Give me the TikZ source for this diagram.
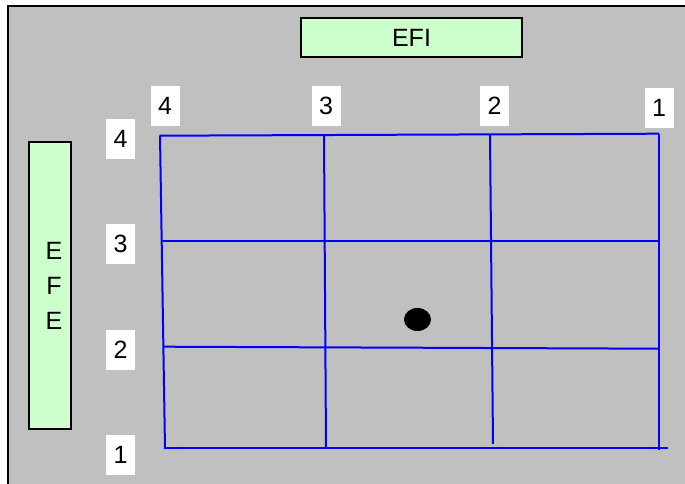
\documentclass[tikz,border=0pt]{standalone}
\usepackage{fontspec}
\setmainfont{Liberation Sans}
\definecolor{panelgray}{HTML}{C0C0C0}
\definecolor{effgreen}{HTML}{CCFFCC}
\tikzset{
  effbox/.style={draw=black,line width=2pt,fill=effgreen},
  numbox/.style={fill=white,inner sep=0pt,minimum width=29pt,minimum height=40pt},
  gridline/.style={draw=blue,line width=2pt}
}

\begin{document}
\begin{tikzpicture}[x=1pt,y=-1pt,font=\fontsize{25}{35}\selectfont]
\useasboundingbox (0,0) rectangle (685,484);
\clip (0,0) rectangle (685,484);
% panel
\draw[line width=2pt,fill=panelgray] (8,6) rectangle (700,500);
% efficiency boxes
\node[effbox,minimum width=221pt,minimum height=39pt] (efi) at (411.5,37.5) {EFI};
\draw[effbox] (29,142) rectangle (71,429);
\node[align=center,inner sep=0pt] (efe) at (54,285.5) {E\\F\\E};
% grid
\draw[gridline] (159.5,135.7) -- (659,133.7);
\draw[gridline] (162,240.7) -- (657.5,240.7);
\draw[gridline] (163.4,346.7) -- (659,348.7);
\draw[gridline] (164.7,447.7) -- (667.5,447.7);
\draw[gridline] (160,135.5) -- (165,449);
\draw[gridline] (324,135) -- (326,447.7);
\draw[gridline] (490,134.5) -- (493,444);
\draw[gridline] (659,133.7) -- (659,450);
% position
\fill (417.5,319.5) ellipse [x radius=13.5pt,y radius=11.5pt];
% column numbers
\node[numbox] (c4) at (165,106) {4};
\node[numbox] (c3) at (326,106) {3};
\node[numbox] (c2) at (494.5,106) {2};
\node[numbox] (c1) at (659,108) {1};
% row numbers
\node[numbox] (r4) at (120.5,139) {4};
\node[numbox] (r3) at (120.5,244) {3};
\node[numbox] (r2) at (120.5,350) {2};
\node[numbox] (r1) at (120.5,455) {1};
\end{tikzpicture}
\end{document}
